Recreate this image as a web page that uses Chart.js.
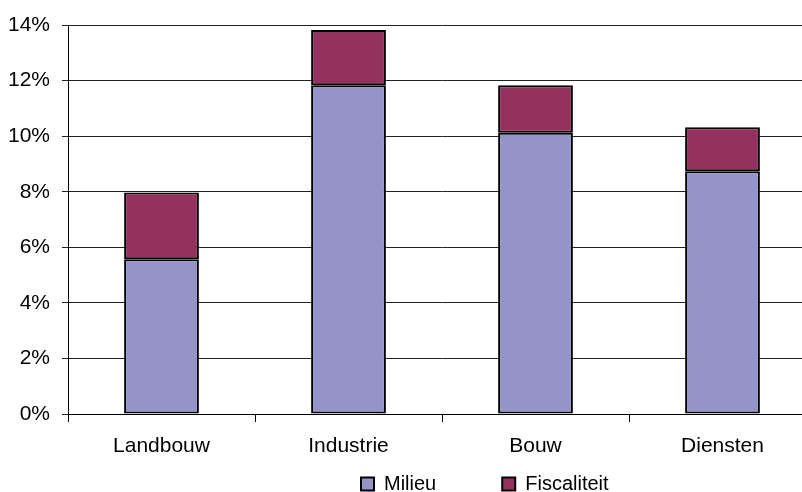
<!DOCTYPE html>
<html>
<head>
<meta charset="utf-8">
<script src="https://cdn.jsdelivr.net/npm/chart.js@4/dist/chart.umd.min.js"></script>
<style>
  html, body { margin: 0; padding: 0; background: #fff; overflow: hidden; }
  #wrap { width: 816px; height: 492px; }
</style>
</head>
<body>
<div id="wrap"><canvas id="chart"></canvas></div>
<script>
const categories = ["Landbouw", "Industrie", "Bouw", "Diensten"];
const milieu = [5.57, 11.83, 10.12, 8.74];
const fiscaliteit = [2.4, 1.99, 1.71, 1.58];
const yTicks = [0, 2, 4, 6, 8, 10, 12, 14];

Chart.defaults.font.family = "'Liberation Sans', Arial, sans-serif";
Chart.defaults.color = "#000";

// legend sits a bit right of centre, close under the axis labels
const legendPos = {
  id: "legendPos",
  beforeLayout(chart) {
    const lg = chart.legend;
    if (lg && !lg._patched) {
      const fit = lg.fit;
      lg.fit = function () { fit.call(this); this.height = 35; };
      lg._patched = true;
    }
  },
  afterLayout(chart) {
    const lg = chart.legend;
    const pad = lg.options.labels.padding;
    const w = lg.right - lg.left;
    lg.left = 361 - pad;
    lg.right = lg.left + w;
    lg.top = 484 - 10 - pad;
  }
};

new Chart(document.getElementById("chart"), {
  type: "bar",
  data: {
    labels: categories,
    datasets: [
      {
        label: "Milieu",
        data: milieu,
        backgroundColor: "#9494c8",
        borderColor: "#000",
        borderWidth: 2,
        borderSkipped: false,
        categoryPercentage: 0.8,
        barPercentage: 0.5
      },
      {
        label: "Fiscaliteit",
        data: fiscaliteit,
        backgroundColor: "#93325e",
        borderColor: "#000",
        borderWidth: 2,
        borderSkipped: false,
        categoryPercentage: 0.8,
        barPercentage: 0.5
      }
    ]
  },
  options: {
    responsive: true,
    maintainAspectRatio: false,
    animation: false,
    events: [],
    layout: { padding: { top: 25, left: 0, right: 0, bottom: 0 } },
    scales: {
      x: {
        stacked: true,
        afterFit: axis => { axis.height = 43; },
        grid: { offset: true, drawOnChartArea: false, color: "#000", tickLength: 8 },
        border: { color: "#000" },
        ticks: { font: { size: 21 }, padding: 12 }
      },
      y: {
        stacked: true,
        min: 0,
        max: 14,
        afterBuildTicks: axis => { axis.ticks = yTicks.map(v => ({ value: v })); },
        afterFit: axis => { axis.width = 68; },
        grid: { color: "#222", tickLength: 6 },
        border: { color: "#000" },
        ticks: { font: { size: 21 }, padding: 12, callback: v => v + "%" }
      }
    },
    plugins: {
      tooltip: { enabled: false },
      legend: {
        position: "bottom",
        align: "start",
        labels: {
          font: { size: 20 },
          boxWidth: 13,
          boxHeight: 13,
          padding: 66,
          color: "#000"
        }
      }
    }
  },
  plugins: [legendPos]
});
</script>
</body>
</html>
